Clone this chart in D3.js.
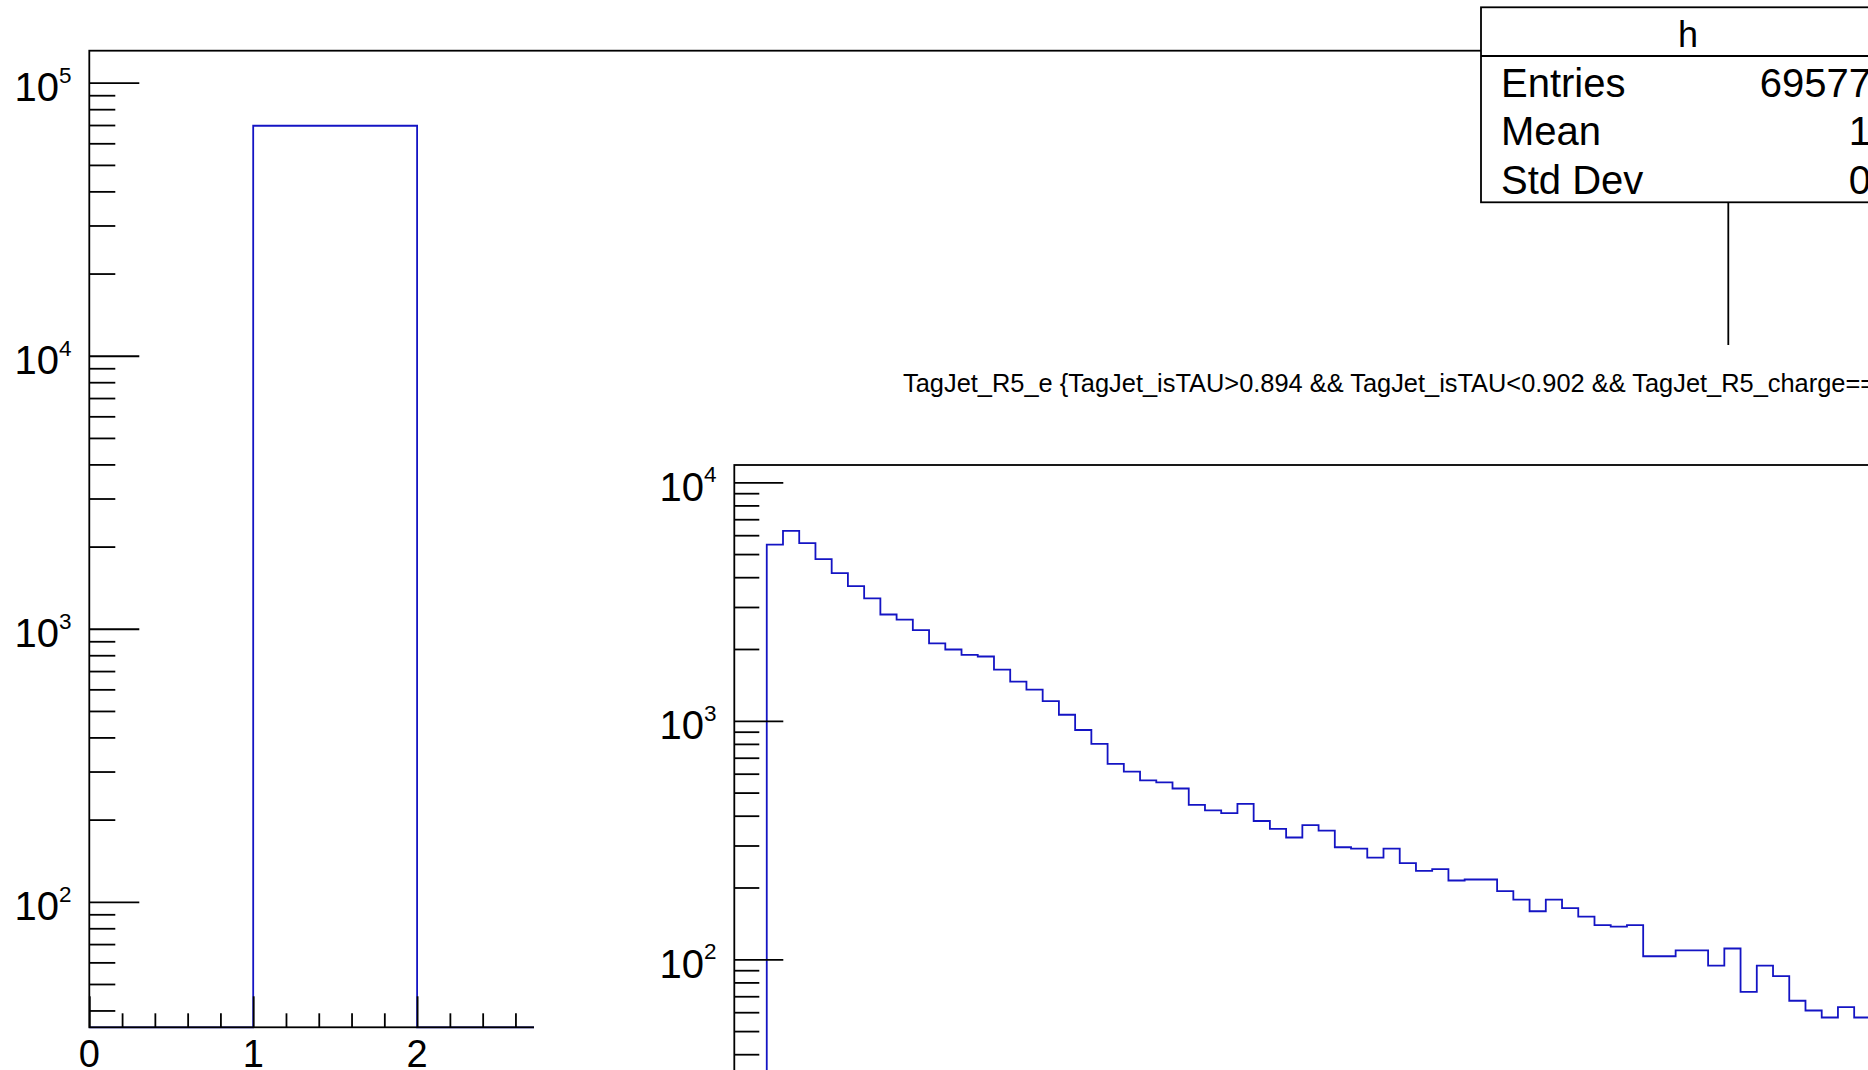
<!DOCTYPE html>
<html>
<head>
<meta charset="utf-8">
<script src="https://cdn.jsdelivr.net/npm/d3@7"></script>
<style>
  html, body { margin: 0; padding: 0; background: #fff; }
  svg { display: block; }
  text { font-family: "Liberation Sans", Arial, Helvetica, sans-serif; fill: #000; }
</style>
</head>
<body>
<svg id="c" width="1868" height="1070"></svg>
<script>
// ---------------- data ----------------
// Left pad: histogram "h" (x from 0 to 10, unit bins)
const leftBinEdges = [0,1,2,3,4,5,6,7,8,9,10];
const leftCounts   = [0,69577,0,0,0,0,0,0,0,0];
const leftXTickLabels = ["0","1","2","3","4","5","6","7","8","9","10"];
const leftYDecades = [2,3,4,5];

// Stats box
const statsTitle  = "h";
const statsNames  = ["Entries","Mean","Std Dev"];
const statsValues = ["69577","1","0"];

// Right pad: TagJet_R5_e, unit bins, first filled bin starts at 2
const rightFirstBin = 2;
const rightCounts = [
  5480, 6260, 5560, 4760, 4160, 3670, 3260, 2790, 2655, 2400,
  2110, 1990, 1890, 1860, 1640, 1460, 1350, 1210, 1060, 915,
  800, 660, 612, 563, 552, 520, 444, 421, 410, 448,
  380, 352, 324, 365, 346, 295, 291, 267, 291, 253,
  235, 239, 214, 216, 216, 193, 178, 159, 178, 164,
  151, 139, 137, 139, 103, 103, 109, 109, 94, 111,
  73, 94, 85, 67, 61, 57, 63, 57
];
const rightYDecades = [2,3,4];
const rightTitle = "TagJet_R5_e {TagJet_isTAU>0.894 && TagJet_isTAU<0.902 && TagJet_R5_charge==1}";

// ---------------- drawing ----------------
const svg = d3.select("#c");
const HIST_COLOR = "#1414c4";
const AX = 1.8;

function minorLogTicks(domain, decs) {
  const out = [];
  for (let d = decs[0] - 1; d <= decs[decs.length - 1]; d++) {
    for (let m = 2; m <= 9; m++) {
      const v = m * Math.pow(10, d);
      if (v >= domain[0] && v <= domain[1]) out.push(v);
    }
  }
  return out;
}

function histPath(x, y, edges, counts, yMin) {
  const yb = y(yMin);
  let p = "M" + x(edges[0]) + "," + yb;
  counts.forEach((c, i) => {
    const yy = c > 0 ? y(c) : yb;
    p += "L" + x(edges[i]) + "," + yy + "L" + x(edges[i + 1]) + "," + yy;
  });
  p += "L" + x(edges[edges.length - 1]) + "," + yb;
  return p;
}

function powerLabel(g, xRight, yTick, exp) {
  const t = g.append("text")
    .attr("x", xRight)
    .attr("y", yTick + 18.5)
    .attr("text-anchor", "end")
    .style("font-size", "40px");
  t.append("tspan").text("10");
  t.append("tspan").attr("dy", -18.5).style("font-size", "22.5px").text(String(exp));
}

// ===== Left pad =====
const xL = d3.scaleLinear().domain([0, 10]).range([89.3, 1728.3]);
const yLdom = [34.7, 131000];
const yL = d3.scaleLog().domain(yLdom).range([1027.3, 50.7]);
const gL = svg.append("g");

// histogram
gL.append("path")
  .attr("d", histPath(xL, yL, leftBinEdges, leftCounts, yLdom[0]))
  .attr("fill", "none").attr("stroke", HIST_COLOR).attr("stroke-width", 1.8);

// frame
gL.append("rect")
  .attr("x", xL(0)).attr("y", yL(yLdom[1]))
  .attr("width", xL(10) - xL(0)).attr("height", yL(yLdom[0]) - yL(yLdom[1]))
  .attr("fill", "none").attr("stroke", "#000").attr("stroke-width", AX);

// y axis ticks
const yLMaj = leftYDecades.map(d => Math.pow(10, d));
const yLMin = minorLogTicks(yLdom, leftYDecades);
gL.append("g").attr("transform", `translate(${xL(0)},0)`)
  .call(d3.axisRight(yL).tickValues(yLMaj).tickSize(50).tickFormat(""));
gL.append("g").attr("transform", `translate(${xL(0)},0)`)
  .call(d3.axisRight(yL).tickValues(yLMin).tickSize(26).tickFormat(""));
leftYDecades.forEach(d => powerLabel(gL, 71.5, yL(Math.pow(10, d)), d));

// x axis ticks
const xLMaj = d3.range(0, 11, 1);
const xLMin = d3.range(0, 50).map(i => i * 0.2).filter(v => Math.abs(v - Math.round(v)) > 1e-6);
gL.append("g").attr("transform", `translate(0,${yL(yLdom[0])})`)
  .call(d3.axisTop(xL).tickValues(xLMaj).tickSize(31).tickFormat(""));
gL.append("g").attr("transform", `translate(0,${yL(yLdom[0])})`)
  .call(d3.axisTop(xL).tickValues(xLMin).tickSize(14).tickFormat(""));
xLMaj.forEach((v, i) => {
  gL.append("text").attr("x", xL(v)).attr("y", 1067)
    .attr("text-anchor", "middle").style("font-size", "38px").text(leftXTickLabels[i]);
});

// style axes
svg.selectAll(".domain").remove();
svg.selectAll(".tick line").attr("stroke", "#000").attr("stroke-width", AX);

// ===== Stats box =====
const gS = svg.append("g");
gS.append("rect").attr("x", 1481).attr("y", 7.3).attr("width", 414).attr("height", 195)
  .attr("fill", "#fff").attr("stroke", "#000").attr("stroke-width", 1.8);
gS.append("line").attr("x1", 1481).attr("x2", 1895).attr("y1", 56).attr("y2", 56)
  .attr("stroke", "#000").attr("stroke-width", 1.8);
gS.append("text").attr("x", 1688).attr("y", 47).attr("text-anchor", "middle")
  .style("font-size", "36px").text(statsTitle);
statsNames.forEach((n, i) => {
  const yb = 96.5 + i * 48.8;
  gS.append("text").attr("x", 1501).attr("y", yb).style("font-size", "40px").text(n);
  gS.append("text").attr("x", 1871).attr("y", yb).attr("text-anchor", "end")
    .style("font-size", "40px").text(statsValues[i]);
});

// ===== Right pad =====
const gR = svg.append("g");
gR.append("rect").attr("x", 534).attr("y", 345).attr("width", 1400).attr("height", 800)
  .attr("fill", "#fff");
gR.append("text").attr("x", 903).attr("y", 392).style("font-size", "25.4px").text(rightTitle);

const xR = d3.scaleLinear().domain([0, 100]).range([734.3, 734.3 + 1623]);
const yRdom = [20, 11815];
const yR = d3.scaleLog().domain(yRdom).range([1126, 465]);

const rEdges = d3.range(rightFirstBin, rightFirstBin + rightCounts.length + 1);
gR.append("path")
  .attr("d", histPath(xR, yR, rEdges, rightCounts, yRdom[0]))
  .attr("fill", "none").attr("stroke", HIST_COLOR).attr("stroke-width", 1.8);

gR.append("rect")
  .attr("x", xR(0)).attr("y", yR(yRdom[1]))
  .attr("width", xR(100) - xR(0)).attr("height", yR(yRdom[0]) - yR(yRdom[1]))
  .attr("fill", "none").attr("stroke", "#000").attr("stroke-width", AX);

const yRMaj = rightYDecades.map(d => Math.pow(10, d));
const yRMin = minorLogTicks(yRdom, rightYDecades);
const aR1 = gR.append("g").attr("transform", `translate(${xR(0)},0)`)
  .call(d3.axisRight(yR).tickValues(yRMaj).tickSize(49).tickFormat(""));
const aR2 = gR.append("g").attr("transform", `translate(${xR(0)},0)`)
  .call(d3.axisRight(yR).tickValues(yRMin).tickSize(25).tickFormat(""));
[aR1, aR2].forEach(a => {
  a.select(".domain").remove();
  a.selectAll(".tick line").attr("stroke", "#000").attr("stroke-width", AX);
});
rightYDecades.forEach(d => powerLabel(gR, 716.5, yR(Math.pow(10, d)), d));
</script>
</body>
</html>
